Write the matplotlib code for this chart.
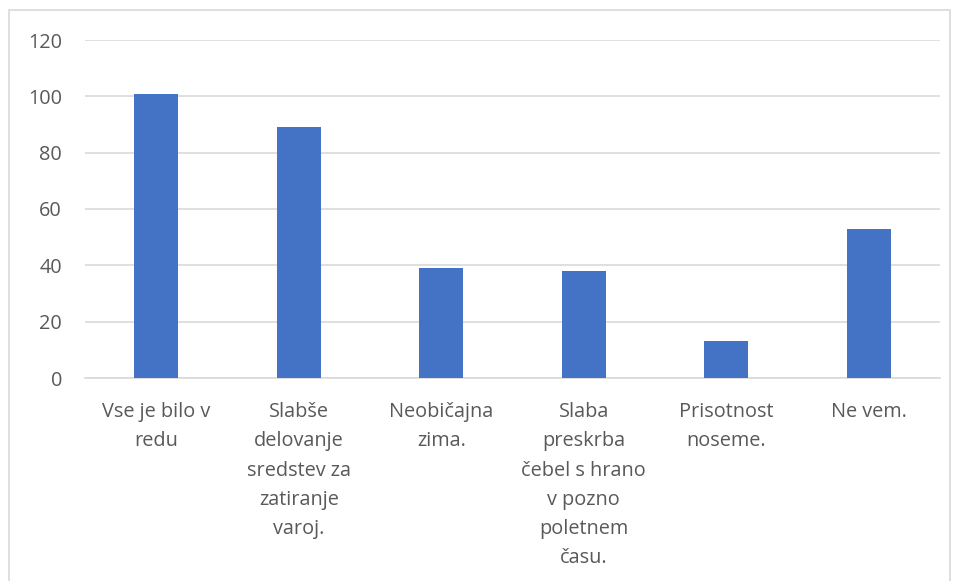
import matplotlib
matplotlib.use("Agg")
import matplotlib.pyplot as plt
from matplotlib.patches import Rectangle

categories = [
    "Vse je bilo v\nredu",
    "Slabše\ndelovanje\nsredstev za\nzatiranje\nvaroj.",
    "Neobičajna\nzima.",
    "Slaba\npreskrba\nčebel s hrano\nv pozno\npoletnem\nčasu.",
    "Prisotnost\nnoseme.",
    "Ne vem.",
]
values = [101, 89, 39, 38, 13, 53]
yticks = [0, 20, 40, 60, 80, 100, 120]

plt.rcParams['font.family'] = ['Open Sans', 'DejaVu Sans']
text_color = '#595959'
grid_color = '#d9d9d9'

fig = plt.figure(figsize=(9.56, 5.81), dpi=100)
ax = fig.add_axes([85/956, 1-378/581, 855/956, 338/581])

x = list(range(len(values)))
ax.bar(x, values, width=0.31, color='#4472C4', zorder=3)
ax.set_xlim(-0.5, len(values) - 0.5)
ax.set_ylim(0, 120)
ax.set_yticks(yticks)
ax.set_xticks(x)
ax.set_xticklabels(categories, linespacing=1.61, va='top')
ax.grid(axis='y', color=grid_color, linewidth=1.2, zorder=0)
for s in ['top', 'right', 'left']:
    ax.spines[s].set_visible(False)
ax.spines['bottom'].set_color(grid_color)
ax.spines['bottom'].set_linewidth(1.2)
ax.tick_params(axis='both', length=0, labelsize=14.3, colors=text_color)
ax.tick_params(axis='y', pad=16.5)
ax.tick_params(axis='x', pad=17.5)

fig.patches.append(Rectangle((9/956, -0.1), 941/956, 1 - 10/581 + 0.1,
                             transform=fig.transFigure, fill=False,
                             edgecolor=grid_color, linewidth=1.2))

fig.savefig('out.png', dpi=100, facecolor='white')
